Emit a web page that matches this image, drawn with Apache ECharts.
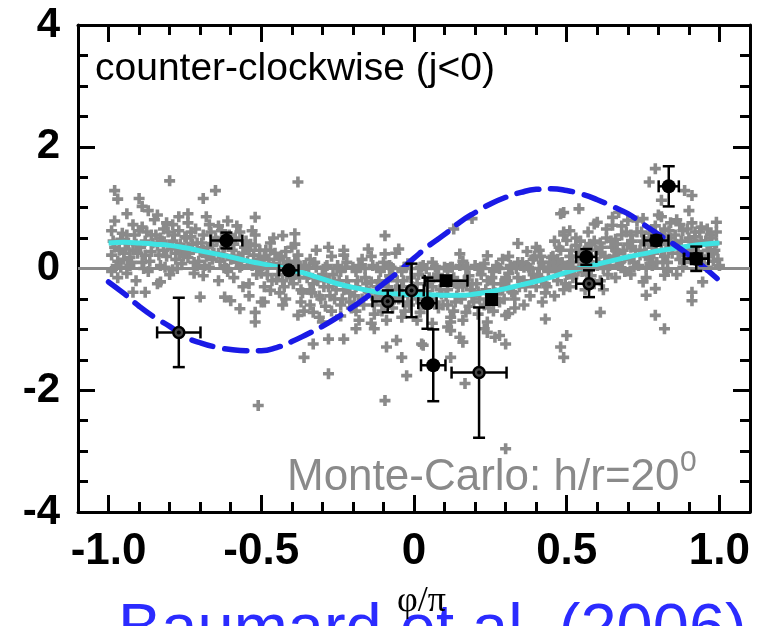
<!DOCTYPE html>
<html>
<head>
<meta charset="utf-8">
<script src="https://cdn.jsdelivr.net/npm/echarts@6/dist/echarts.min.js"></script>
<style>html,body{margin:0;padding:0;background:#fff;}#c{width:760px;height:626px;}</style>
</head>
<body>
<div id="c"></div>
<script>
// ---- tick values / labels ----
const xMajorTicks = [-1.0, -0.5, 0, 0.5, 1.0];
const xTickLabels = ['-1.0', '-0.5', '0', '0.5', '1.0'];
const xMinorTicks = [-0.9,-0.8,-0.7,-0.6,-0.4,-0.3,-0.2,-0.1,0.1,0.2,0.3,0.4,0.6,0.7,0.8,0.9];
const yTickLabels = ['-4', '-2', '0', '2', '4'];

// ---- Monte-Carlo gray points (dense band) ----
const mcDense = [
[-0.99,0.62],[-0.98,0.35],[-0.97,0.12],[-0.99,-0.05],[-0.96,0.48],[-0.98,0.78],[-0.95,0.25],[-0.97,-0.15],[-0.96,0.02],[-0.99,0.22],
[-0.94,0.55],[-0.93,0.18],[-0.92,0.72],[-0.94,-0.08],[-0.91,0.4],[-0.93,0.05],[-0.92,0.3],[-0.90,0.62],[-0.91,-0.2],[-0.94,0.9],
[-0.89,0.1],[-0.88,0.45],[-0.87,0.95],[-0.86,0.28],[-0.89,0.68],[-0.87,-0.05],[-0.86,0.55],[-0.88,0.22],[-0.85,0.8],[-0.89,1.02],
[-0.84,0.38],[-0.83,0.05],[-0.82,0.65],[-0.84,0.88],[-0.81,0.2],[-0.83,0.5],[-0.80,-0.1],[-0.82,0.3],[-0.81,0.75],[-0.84,-0.25],
[-0.79,0.45],[-0.78,0.15],[-0.77,0.62],[-0.76,0.3],[-0.79,-0.02],[-0.77,0.85],[-0.75,0.52],[-0.78,0.25],[-0.76,0.08],[-0.79,0.72],
[-0.74,0.35],[-0.73,0.6],[-0.72,0.1],[-0.71,0.42],[-0.74,0.75],[-0.72,-0.08],[-0.70,0.28],[-0.73,0.52],[-0.71,0.05],[-0.74,0.18],
[-0.69,0.55],[-0.68,0.2],[-0.67,0.72],[-0.66,0.38],[-0.69,-0.12],[-0.67,0.02],[-0.65,0.5],[-0.68,0.85],[-0.66,0.15],[-0.69,0.3],
[-0.64,0.25],[-0.63,0.62],[-0.62,0.05],[-0.61,0.78],[-0.64,-0.2],[-0.62,0.35],[-0.60,0.15],[-0.63,0.45],[-0.61,-0.05],[-0.64,0.7],
[-0.59,0.4],[-0.58,0.1],[-0.57,0.6],[-0.56,0.25],[-0.59,-0.15],[-0.57,0.02],[-0.55,0.45],[-0.58,0.7],[-0.56,-0.3],[-0.59,0.2],
[-0.54,0.3],[-0.53,0.05],[-0.52,0.55],[-0.51,0.15],[-0.54,-0.25],[-0.52,0.38],[-0.50,-0.08],[-0.53,0.62],[-0.51,0.02],[-0.54,-0.45],
[-0.49,0.2],[-0.48,-0.1],[-0.47,0.42],[-0.46,0.08],[-0.49,-0.3],[-0.47,0.3],[-0.45,-0.18],[-0.48,0.02],[-0.46,0.5],[-0.49,-0.55],
[-0.44,0.15],[-0.43,-0.2],[-0.42,0.28],[-0.41,-0.05],[-0.44,-0.4],[-0.42,0.05],[-0.40,0.35],[-0.43,-0.6],[-0.41,0.1],[-0.44,0.02],
[-0.39,-0.1],[-0.38,0.22],[-0.37,-0.35],[-0.36,0.05],[-0.39,0.4],[-0.37,-0.55],[-0.35,-0.15],[-0.38,0.02],[-0.36,-0.7],[-0.39,0.12],
[-0.34,0.15],[-0.33,-0.25],[-0.32,0.02],[-0.31,-0.45],[-0.34,-0.6],[-0.32,0.3],[-0.30,-0.1],[-0.33,0.08],[-0.31,-0.8],[-0.34,-0.35],
[-0.29,0.02],[-0.28,-0.3],[-0.27,0.2],[-0.26,-0.5],[-0.29,-0.15],[-0.27,-0.7],[-0.25,0.05],[-0.28,0.35],[-0.26,-0.22],[-0.29,-0.62],
[-0.24,-0.05],[-0.23,-0.35],[-0.22,0.1],[-0.21,-0.55],[-0.24,-0.78],[-0.22,-0.2],[-0.20,0.02],[-0.23,0.22],[-0.21,-0.4],[-0.24,-0.6],
[-0.19,-0.3],[-0.18,0.05],[-0.17,-0.5],[-0.16,-0.15],[-0.19,-0.7],[-0.17,0.15],[-0.15,-0.38],[-0.18,-0.85],[-0.16,0.0],[-0.19,-0.05],
[-0.14,-0.22],[-0.13,-0.6],[-0.12,0.02],[-0.11,-0.45],[-0.14,-0.9],[-0.12,-0.3],[-0.10,0.1],[-0.13,-0.75],[-0.11,-0.05],[-0.14,0.2],
[-0.09,-0.2],[-0.08,0.05],[-0.07,-0.65],[-0.06,-0.35],[-0.09,-0.85],[-0.07,0.0],[-0.05,-0.5],[-0.08,-0.12],[-0.06,0.25],[-0.09,-0.42],
[-0.04,-0.3],[-0.03,0.02],[-0.02,-0.55],[-0.01,-0.15],[-0.04,-0.8],[-0.02,0.08],[0.0,-0.4],[-0.03,-0.7],[-0.01,0.0],[-0.04,-0.05],
[0.01,-0.25],[0.02,0.02],[0.03,-0.6],[0.04,-0.38],[0.01,-0.85],[0.03,0.05],[0.05,-0.15],[0.02,-0.72],[0.04,0.0],[0.01,-0.5],
[0.06,-0.3],[0.07,0.03],[0.08,-0.65],[0.09,-0.42],[0.06,-0.9],[0.08,-0.1],[0.10,0.02],[0.07,-0.55],[0.09,-0.2],[0.06,0.1],
[0.11,-0.35],[0.12,0.02],[0.13,-0.7],[0.14,-0.45],[0.11,-0.6],[0.13,-0.15],[0.15,0.05],[0.12,-0.8],[0.14,-0.25],[0.11,0.0],
[0.16,-0.3],[0.17,0.0],[0.18,-0.62],[0.19,-0.45],[0.16,-0.85],[0.18,-0.12],[0.20,0.05],[0.17,-0.72],[0.19,-0.25],[0.16,0.12],
[0.21,-0.38],[0.22,0.02],[0.23,-0.6],[0.24,-0.2],[0.21,-0.75],[0.23,0.08],[0.25,-0.45],[0.22,-0.1],[0.24,-0.88],[0.21,0.0],
[0.26,-0.25],[0.27,0.05],[0.28,-0.55],[0.29,-0.35],[0.26,-0.7],[0.28,0.0],[0.30,-0.15],[0.27,-0.42],[0.29,0.15],[0.26,-0.05],
[0.31,-0.3],[0.32,0.02],[0.33,-0.5],[0.34,-0.15],[0.31,0.2],[0.33,-0.65],[0.35,0.05],[0.32,-0.38],[0.34,0.1],[0.31,-0.08],
[0.36,-0.2],[0.37,0.05],[0.38,-0.45],[0.39,0.15],[0.36,-0.6],[0.38,0.0],[0.40,-0.3],[0.37,0.28],[0.39,-0.1],[0.36,0.02],
[0.41,-0.15],[0.42,0.1],[0.43,-0.4],[0.44,0.02],[0.41,0.3],[0.43,-0.25],[0.45,0.18],[0.42,-0.55],[0.44,-0.05],[0.41,0.0],
[0.46,0.05],[0.47,-0.2],[0.48,0.3],[0.49,-0.35],[0.46,0.45],[0.48,0.0],[0.50,-0.1],[0.47,0.15],[0.49,0.55],[0.46,-0.45],
[0.51,0.2],[0.52,-0.15],[0.53,0.38],[0.54,0.02],[0.51,-0.3],[0.53,0.5],[0.55,-0.05],[0.52,0.1],[0.54,0.28],[0.51,0.62],
[0.56,0.1],[0.57,0.35],[0.58,-0.12],[0.59,0.45],[0.56,-0.35],[0.58,0.2],[0.60,0.05],[0.57,0.6],[0.59,-0.25],[0.56,0.28],
[0.61,0.25],[0.62,0.0],[0.63,0.5],[0.64,0.15],[0.61,-0.2],[0.63,0.65],[0.65,0.35],[0.62,-0.35],[0.64,0.05],[0.61,0.42],
[0.66,0.3],[0.67,0.05],[0.68,0.55],[0.69,0.18],[0.66,-0.15],[0.68,0.7],[0.70,0.4],[0.67,0.25],[0.69,-0.05],[0.66,0.48],
[0.71,0.35],[0.72,0.1],[0.73,0.6],[0.74,0.22],[0.71,-0.1],[0.73,0.78],[0.75,0.45],[0.72,0.02],[0.74,0.3],[0.71,0.55],
[0.76,0.25],[0.77,0.58],[0.78,0.05],[0.79,0.7],[0.76,-0.15],[0.78,0.35],[0.80,0.88],[0.77,0.15],[0.79,0.42],[0.76,0.02],
[0.81,0.3],[0.82,0.65],[0.83,0.1],[0.84,0.5],[0.81,0.85],[0.83,-0.05],[0.85,0.38],[0.82,0.2],[0.84,0.75],[0.81,0.55],
[0.86,0.4],[0.87,0.15],[0.88,0.62],[0.89,0.3],[0.86,0.8],[0.88,0.02],[0.90,0.5],[0.87,0.72],[0.89,0.22],[0.86,-0.1],
[0.91,0.35],[0.92,0.6],[0.93,0.1],[0.94,0.45],[0.91,0.75],[0.93,0.28],[0.95,0.05],[0.92,0.52],[0.94,0.68],[0.91,0.15],
[0.96,0.3],[0.97,0.55],[0.98,0.12],[0.99,0.42],[0.96,0.65],[0.98,0.25],[1.0,0.05],[0.97,0.38],[0.99,0.6],[0.96,0.02]
];

// ---- Monte-Carlo gray points (core of the band) ----
const mcCore = [
[-0.985,0.45],[-0.965,0.3],[-0.955,0.58],[-0.975,0.05],[-0.95,0.15],
[-0.935,0.42],[-0.925,0.1],[-0.915,0.55],[-0.905,0.25],[-0.945,0.32],
[-0.895,0.35],[-0.875,0.6],[-0.865,0.12],[-0.855,0.42],[-0.885,0.0],
[-0.845,0.55],[-0.835,0.22],[-0.825,0.45],[-0.815,0.02],[-0.805,0.6],
[-0.795,0.32],[-0.785,0.55],[-0.775,0.0],[-0.765,0.4],[-0.755,0.2],
[-0.745,0.5],[-0.735,0.25],[-0.725,0.4],[-0.715,0.65],[-0.705,0.12],
[-0.695,0.42],[-0.685,0.05],[-0.675,0.35],[-0.665,0.6],[-0.655,0.25],
[-0.645,0.45],[-0.635,0.12],[-0.625,0.22],[-0.615,0.0],[-0.605,0.55],
[-0.595,0.3],[-0.585,0.5],[-0.575,0.2],[-0.565,0.05],[-0.555,0.35],
[-0.545,0.12],[-0.535,0.4],[-0.525,0.22],[-0.515,-0.1],[-0.505,0.3],
[-0.495,0.05],[-0.485,0.3],[-0.475,0.15],[-0.465,-0.2],[-0.455,0.25],
[-0.445,-0.1],[-0.435,0.2],[-0.425,-0.3],[-0.415,0.1],[-0.405,-0.15],
[-0.395,-0.25],[-0.385,0.1],[-0.375,-0.15],[-0.365,-0.4],[-0.355,0.05],
[-0.345,-0.1],[-0.335,-0.4],[-0.325,0.1],[-0.315,-0.2],[-0.305,-0.5],
[-0.295,-0.3],[-0.285,0.05],[-0.275,-0.45],[-0.265,-0.1],[-0.255,-0.35],
[-0.245,-0.2],[-0.235,-0.5],[-0.225,0.02],[-0.215,-0.3],[-0.205,-0.65],
[-0.195,-0.45],[-0.185,-0.2],[-0.175,0.02],[-0.165,-0.6],[-0.155,-0.25],
[-0.145,-0.4],[-0.135,0.05],[-0.125,-0.5],[-0.115,-0.2],[-0.105,-0.7],
[-0.095,-0.6],[-0.085,-0.3],[-0.075,0.02],[-0.065,-0.5],[-0.055,-0.2],
[-0.045,-0.45],[-0.035,-0.2],[-0.025,0.02],[-0.015,-0.6],[-0.005,-0.3],
[0.005,-0.4],[0.015,-0.1],[0.025,0.02],[0.035,-0.5],[0.045,-0.25],
[0.055,-0.5],[0.065,-0.15],[0.075,0.0],[0.085,-0.35],[0.095,-0.6],
[0.105,-0.45],[0.115,-0.2],[0.125,0.02],[0.135,-0.55],[0.145,-0.3],
[0.155,-0.5],[0.165,-0.2],[0.175,0.02],[0.185,-0.35],[0.195,-0.55],
[0.205,-0.25],[0.215,-0.5],[0.225,0.0],[0.235,-0.35],[0.245,-0.65],
[0.255,-0.15],[0.265,-0.4],[0.275,0.02],[0.285,-0.25],[0.295,-0.5],
[0.305,-0.2],[0.315,0.05],[0.325,-0.4],[0.335,0.0],[0.345,-0.3],
[0.355,0.1],[0.365,-0.3],[0.375,0.02],[0.385,-0.2],[0.395,0.2],
[0.405,-0.1],[0.415,0.2],[0.425,0.02],[0.435,-0.3],[0.445,0.1],
[0.455,0.2],[0.465,-0.05],[0.475,0.35],[0.485,0.1],[0.495,-0.25],
[0.505,0.05],[0.515,0.3],[0.525,-0.1],[0.535,0.2],[0.545,0.45],
[0.555,0.15],[0.565,-0.1],[0.575,0.4],[0.585,0.05],[0.595,0.3],
[0.605,0.1],[0.615,0.35],[0.625,0.2],[0.635,-0.1],[0.645,0.45],
[0.655,0.2],[0.665,0.4],[0.675,0.1],[0.685,0.3],[0.695,0.6],
[0.705,0.15],[0.715,0.45],[0.725,0.3],[0.735,0.05],[0.745,0.6],
[0.755,0.4],[0.765,0.2],[0.775,0.5],[0.785,0.25],[0.795,0.1],
[0.805,0.45],[0.815,0.1],[0.825,0.4],[0.835,0.62],[0.845,0.25],
[0.855,0.55],[0.865,0.25],[0.875,0.45],[0.885,0.1],[0.895,0.65],
[0.905,0.45],[0.915,0.25],[0.925,0.4],[0.935,0.6],[0.945,0.2],
[0.955,0.45],[0.965,0.2],[0.975,0.5],[0.985,0.3],[0.995,0.15]
];

// ---- Monte-Carlo gray points (sparse outliers) ----
const mcOutliers = [
[-0.80,1.44],[-0.98,1.28],[-0.97,1.14],[-0.90,1.15],[-0.69,1.15],[-0.65,1.28],[-0.74,0.9],[-0.52,0.84],[-0.92,-0.39],[-0.88,-0.39],
[-0.70,-0.47],[-0.62,-0.47],[-0.60,-0.53],[-0.57,-0.66],[-0.52,-0.72],[-0.52,-0.88],[-0.51,-2.25],[-0.83,-0.22],
[-0.38,1.42],[-0.43,0.54],[-0.39,0.57],[-0.095,0.54],[-0.15,0.32],[-0.095,0.24],[-0.05,0.32],[-0.23,0.3],
[-0.28,-1.73],[-0.095,-2.17],[-0.36,-1.46],[-0.33,-1.24],[-0.28,-1.16],[-0.23,-1.16],[-0.024,-1.76],[-0.04,-1.46],[-0.057,-1.18],[-0.09,-1.29],
[-0.19,-0.99],[-0.13,-0.99],[-0.50,-0.55],[-0.47,-0.36],[-0.42,-0.5],[-0.38,-0.77],[-0.33,-0.72],[-0.30,-0.88],
[0.13,0.65],[0.19,0.82],[0.15,0.24],[0.24,0.21],[0.34,0.41],[0.40,0.35],[0.48,0.9],[0.54,0.98],[0.49,0.6],[0.50,0.46],
[0.43,-0.83],[0.50,-1.1],[0.48,-1.29],[0.49,-1.46],[0.167,-1.89],[0.03,-1.26],[0.12,-1.46],[0.11,-0.96],[0.12,-0.88],[0.15,-1.13],
[0.16,-1.21],[0.28,-1.1],[0.30,-1.24],[0.23,-0.99],[0.24,-1.05],[0.31,-0.74],[0.30,-0.77],
[0.61,-0.72],[0.79,-0.77],[0.82,-0.99],[0.30,-2.96],[0.025,-1.24],[0.265,-1.13],[0.12,-1.02],
[0.77,1.42],[0.886,1.28],[0.91,1.2],[0.81,1.12],[0.90,0.95],[0.99,0.76],[0.59,0.73],[0.65,0.71],[0.70,0.79],[0.67,0.92],[0.75,0.82],
[0.75,-0.22],[0.76,-0.44],[0.79,-0.33],[0.82,-0.11],[0.91,-0.39],[0.91,-0.53],[0.945,-0.22],
[0.79,1.64],[0.49,0.92],[0.60,0.76],[0.65,0.84]
];

// ---- cyan curve ----
const cyanX = [-1.0,-0.95,-0.9,-0.85,-0.8,-0.75,-0.7,-0.65,-0.6,-0.55,-0.5,-0.45,-0.4,-0.35,-0.3,-0.25,-0.2,-0.15,-0.1,-0.05,0.0,0.05,0.1,0.15,0.2,0.25,0.3,0.35,0.4,0.45,0.5,0.55,0.6,0.65,0.7,0.75,0.8,0.85,0.9,0.95,1.0];
const cyanY = [0.42,0.43,0.42,0.40,0.38,0.34,0.29,0.24,0.19,0.13,0.08,0.03,-0.02,-0.09,-0.17,-0.25,-0.31,-0.36,-0.40,-0.42,-0.43,-0.43,-0.44,-0.44,-0.42,-0.38,-0.33,-0.27,-0.21,-0.14,-0.06,0.01,0.07,0.13,0.19,0.24,0.29,0.33,0.37,0.40,0.42];

// ---- blue dashed curve ----
const blueX = [-1.0,-0.95,-0.9,-0.85,-0.8,-0.75,-0.7,-0.65,-0.6,-0.55,-0.5,-0.45,-0.4,-0.35,-0.3,-0.25,-0.2,-0.15,-0.1,-0.05,0.0,0.05,0.1,0.15,0.2,0.25,0.3,0.35,0.4,0.45,0.5,0.55,0.6,0.65,0.7,0.75,0.8,0.85,0.9,0.95,1.0];
const blueY = [-0.22,-0.41,-0.62,-0.8,-0.95,-1.12,-1.22,-1.29,-1.33,-1.35,-1.35,-1.30,-1.2,-1.08,-0.95,-0.8,-0.63,-0.45,-0.25,-0.05,0.17,0.38,0.56,0.76,0.92,1.06,1.17,1.25,1.30,1.31,1.28,1.22,1.13,1.02,0.9,0.73,0.56,0.4,0.22,0.02,-0.2];

// ---- measured points with error bars ----
// kind: 0 filled circle, 1 open circle with dot, 2 square
const ptX    = [-0.77, -0.614, -0.41, -0.086, -0.008, 0.044, 0.105, 0.254, 0.213, 0.063, 0.834, 0.793, 0.924, 0.924, 0.564, 0.573];
const ptY    = [-1.05,  0.46,  -0.03, -0.54,  -0.36,  -0.57, -0.20, -0.51, -1.71, -1.59, 1.35,  0.46,  0.16,  0.16,  0.19, -0.25];
const ptXErr = [0.071,  0.052,  0.032, 0.05,   0.04,   0.03,  0.07,  0.0,   0.09,  0.04,  0.033, 0.04,  0.04,  0.04,  0.033, 0.042];
const ptYErr = [0.57,   0.13,   0.0,   0.18,   0.44,   0.42,  0.0,   0.0,   1.07,  0.59,  0.33,  0.08,  0.2,   0.0,   0.13,  0.22];
const ptKind = [1,      0,      0,     1,      1,      0,     2,     2,     1,     0,     0,     0,     0,     2,     0,     1];

const chart = echarts.init(document.getElementById('c'), null, {renderer: 'canvas'});
const FONT = 'Liberation Sans, Arial, Helvetica, sans-serif';
const plus = 'path://M3.7,0h3.6v3.7h3.7v3.6h-3.7v3.7h-3.6v-3.7h-3.7v-3.6h3.7z';
const gray = '#8a8a8a';

const ptData = ptX.map((x, i) => [x, ptY[i], ptXErr[i], ptYErr[i], ptKind[i]]);

function xAxisDef(pos, major) {
  return {
    type: 'value', min: -1.1, max: 1.1, position: pos,
    axisLine: {show: major, onZero: false, lineStyle: {color: '#000', width: 3}},
    axisTick: {show: true, inside: true, length: major ? 17 : 10, lineStyle: {color: '#000', width: 3},
      customValues: major ? xMajorTicks : xMinorTicks},
    axisLabel: {show: major && pos === 'bottom', customValues: xMajorTicks, margin: 18,
      fontFamily: FONT, fontSize: 44, fontWeight: 'bold', color: '#000',
      formatter: v => { const i = xMajorTicks.findIndex(t => Math.abs(t - v) < 1e-9); return i >= 0 ? xTickLabels[i] : ''; }},
    splitLine: {show: false}
  };
}
function yAxisDef(pos) {
  return {
    type: 'value', min: -4, max: 4, interval: 2, position: pos,
    axisLine: {show: true, onZero: false, lineStyle: {color: '#000', width: 3}},
    axisTick: {show: true, inside: true, length: 17, lineStyle: {color: '#000', width: 3}},
    minorTick: {show: true, splitNumber: 4, length: 10, lineStyle: {color: '#000', width: 3}},
    axisLabel: {show: pos === 'left', margin: 18, fontFamily: FONT, fontSize: 42, fontWeight: 'bold', color: '#000',
      formatter: v => yTickLabels[Math.round((v + 4) / 2)]},
    splitLine: {show: false}, minorSplitLine: {show: false}
  };
}

const option = {
  backgroundColor: '#fff',
  animation: false,
  grid: {left: 78, right: 10, top: 25, bottom: 114, containLabel: false},
  xAxis: [xAxisDef('bottom', true), xAxisDef('bottom', false), xAxisDef('top', true), xAxisDef('top', false)],
  yAxis: [yAxisDef('left'), yAxisDef('right')],
  series: [
    {
      type: 'scatter', xAxisIndex: 0, yAxisIndex: 0, z: 2,
      symbol: plus, symbolSize: 11, itemStyle: {color: gray, opacity: 1},
      data: mcDense.concat(mcCore, mcOutliers),
      markLine: {silent: true, symbol: 'none', label: {show: false},
        lineStyle: {color: gray, width: 3, type: 'solid'}, data: [{yAxis: 0}]}
    },
    {
      type: 'line', xAxisIndex: 0, yAxisIndex: 0, z: 3, smooth: true, symbol: 'none',
      lineStyle: {color: '#3fe3e3', width: 5},
      data: cyanX.map((x, i) => [x, cyanY[i]])
    },
    {
      type: 'line', xAxisIndex: 0, yAxisIndex: 0, z: 4, smooth: true, symbol: 'none',
      lineStyle: {color: '#1a1ae6', width: 5.5, type: [22, 12], cap: 'round'},
      data: blueX.map((x, i) => [x, blueY[i]])
    },
    {
      type: 'custom', xAxisIndex: 0, yAxisIndex: 0, z: 5,
      data: ptData,
      renderItem: function (params, api) {
        const x = api.value(0), y = api.value(1), xe = api.value(2), ye = api.value(3), kind = api.value(4);
        const c = api.coord([x, y]);
        const st = {stroke: '#000', lineWidth: 2.5, fill: null};
        const ch = [];
        const cap = 6;
        if (xe > 0) {
          const l = api.coord([x - xe, y]), r = api.coord([x + xe, y]);
          ch.push({type: 'line', shape: {x1: l[0], y1: l[1], x2: r[0], y2: r[1]}, style: st});
          ch.push({type: 'line', shape: {x1: l[0], y1: l[1] - cap, x2: l[0], y2: l[1] + cap}, style: st});
          ch.push({type: 'line', shape: {x1: r[0], y1: r[1] - cap, x2: r[0], y2: r[1] + cap}, style: st});
        }
        if (ye > 0) {
          const t = api.coord([x, y + ye]), b = api.coord([x, y - ye]);
          ch.push({type: 'line', shape: {x1: t[0], y1: t[1], x2: b[0], y2: b[1]}, style: st});
          ch.push({type: 'line', shape: {x1: t[0] - cap, y1: t[1], x2: t[0] + cap, y2: t[1]}, style: st});
          ch.push({type: 'line', shape: {x1: b[0] - cap, y1: b[1], x2: b[0] + cap, y2: b[1]}, style: st});
        }
        if (kind === 2) {
          ch.push({type: 'rect', shape: {x: c[0] - 6.5, y: c[1] - 6.5, width: 13, height: 13}, style: {fill: '#000'}});
        } else if (kind === 1) {
          ch.push({type: 'circle', shape: {cx: c[0], cy: c[1], r: 5.5}, style: {fill: '#444', stroke: '#000', lineWidth: 2.5}});
          ch.push({type: 'circle', shape: {cx: c[0], cy: c[1], r: 2}, style: {fill: '#000'}});
        } else {
          ch.push({type: 'circle', shape: {cx: c[0], cy: c[1], r: 7}, style: {fill: '#000'}});
        }
        return {type: 'group', children: ch};
      }
    }
  ],
  graphic: [
    {type: 'text', left: 95, top: 50, z: 10,
      style: {text: 'counter-clockwise (j<0)', font: '39px ' + FONT, fill: '#000'}},
    {type: 'text', left: 287, top: 456, z: 10,
      style: {text: 'Monte-Carlo: h/r=20', font: '44px ' + FONT, fill: gray}},
    {type: 'text', left: 680, top: 448, z: 10,
      style: {text: '0', font: '30px ' + FONT, fill: gray}},
    {type: 'text', left: 118, top: 599, z: 10,
      style: {text: 'Baumard et al. (2006)', font: '65px ' + FONT, fill: '#2b2bff'}},
    {type: 'text', left: 397, top: 584, z: 20,
      style: {text: 'φ/π', font: '36px Liberation Serif, Times New Roman, serif', fill: '#000'}}
  ]
};
chart.setOption(option);
</script>
</body>
</html>
